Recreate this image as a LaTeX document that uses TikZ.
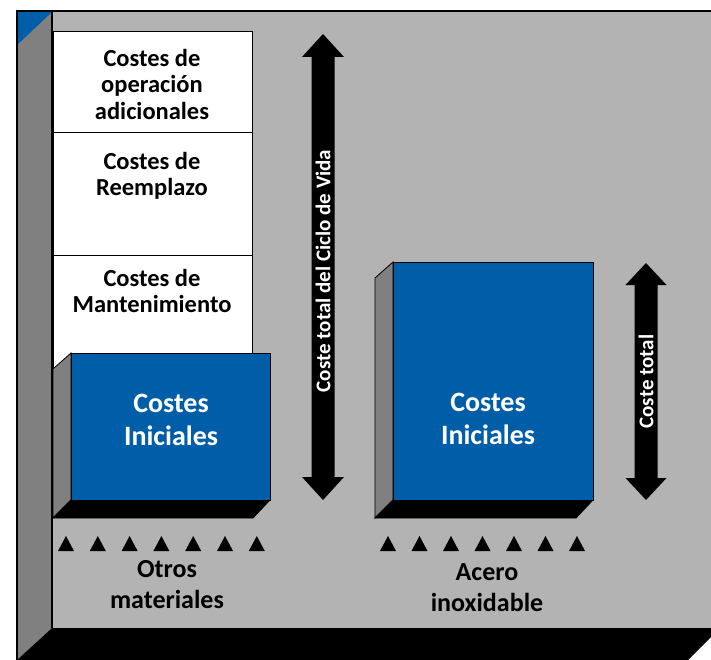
\documentclass[tikz,border=0pt]{standalone}
\usepackage{fontspec}
\setmainfont{Carlito}
\definecolor{wallgray}{RGB}{179,179,179}
\definecolor{sidegray}{RGB}{128,128,128}
\definecolor{boxblue}{RGB}{0,94,168}
\tikzset{
  whitebox/.style={fill=white,draw=black,line width=1pt},
  sideface/.style={fill=sidegray,draw=black,line width=0.8pt},
  frontface/.style={fill=boxblue,draw=black,line width=1pt},
  bottomface/.style={fill=black,draw=black,line width=0.8pt},
  boxlabel/.style={font=\fontsize{24.5}{26.5}\selectfont\bfseries,align=center,inner sep=0pt,text=black},
  bluelabel/.style={font=\fontsize{28}{33}\selectfont\bfseries,align=center,inner sep=0pt,text=white},
  matlabel/.style={font=\fontsize{26}{31}\selectfont\bfseries,align=center,inner sep=0pt,text=black},
  arrowlabel/.style={font=\fontsize{21}{24}\selectfont\bfseries,inner sep=0pt,text=white,rotate=90},
  tri/.style={fill=black},
  bigarrow/.style={fill=black}
}
\begin{document}
\begin{tikzpicture}[x=1pt,y=-1pt]
\useasboundingbox (0,0) rectangle (711,660);
\clip (0,0) rectangle (711,660);
% back wall
\fill[wallgray] (52,12) rectangle (711,628);
\draw[black!55,line width=0.8pt] (52,628) -- (711,628);
% left wall
\fill[sidegray] (17,12) -- (52,12) -- (52,628) -- (17,660) -- cycle;
\fill[boxblue] (17,12) -- (52,12) -- (17,45) -- cycle;
% floor
\fill[black] (17,660) -- (52,628) -- (720,628) -- (688,660) -- cycle;
% borders
\draw[black,line width=1.5pt] (52,12) -- (52,628);
\draw[black,line width=2pt] (16,11.5) -- (711,11.5);
\draw[black,line width=2pt] (17,11) -- (17,660);

% stacked white boxes
\draw[whitebox] (53,255) rectangle (252,400);
\draw[whitebox] (53,133) rectangle (252,255);
\draw[whitebox] (53,32) rectangle (252,133);
\node[boxlabel] (opad) at (152,84) {Costes de\\operación\\adicionales};
\node[boxlabel] (reem) at (152,176) {Costes de\\Reemplazo};
\node[boxlabel] (mant) at (152,291) {Costes de\\Mantenimiento};

% left blue box
\draw[sideface] (53,369) -- (71,353) -- (71,500) -- (53,518) -- cycle;
\draw[bottomface] (53,518) -- (71,500) -- (270,500) -- (253,518) -- cycle;
\draw[frontface] (71,353) rectangle (270,500);
\node[bluelabel] (ini1) at (171,420) {Costes\\Iniciales};

% right blue box
\draw[sideface] (375,278) -- (393,262) -- (393,500) -- (375,518) -- cycle;
\draw[bottomface] (375,518) -- (393,500) -- (593,500) -- (576,518) -- cycle;
\draw[frontface] (393,262) rectangle (593,500);
\node[bluelabel] (ini2) at (488,419) {Costes\\Iniciales};

% triangles
\foreach \i in {0,...,6} {
  \fill[tri] ({66+31.8*\i-8},551) -- ({66+31.8*\i},536) -- ({66+31.8*\i+8},551) -- cycle;
  \fill[tri] ({388+31.5*\i-8},551) -- ({388+31.5*\i},536) -- ({388+31.5*\i+8},551) -- cycle;
}
\node[matlabel] (otros) at (167,585) {Otros\\materiales};
\node[matlabel] (acero) at (487,588) {Acero\\inoxidable};

% big double arrow
\fill[bigarrow] (323,34) -- (344,57) -- (334.5,57) -- (334.5,477) -- (344,477) -- (323,500)
  -- (302,477) -- (311.5,477) -- (311.5,57) -- (302,57) -- cycle;
\node[arrowlabel] (ciclo) at (323,271) {Coste total del Ciclo de Vida};

% small double arrow
\fill[bigarrow] (646,263) -- (666.5,285) -- (657.5,285) -- (657.5,478) -- (666.5,478) -- (646,500)
  -- (625.5,478) -- (634.5,478) -- (634.5,285) -- (625.5,285) -- cycle;
\node[arrowlabel] (total) at (646,381.5) {Coste total};
\end{tikzpicture}
\end{document}
